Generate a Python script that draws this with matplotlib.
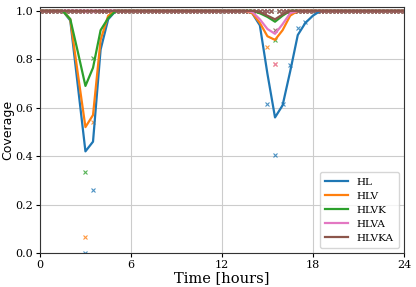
import numpy as np
import matplotlib
matplotlib.use('Agg')
import matplotlib.pyplot as plt

plt.rcParams['font.family'] = 'DejaVu Serif'

series = ['HL', 'HLV', 'HLVK', 'HLVA', 'HLVKA']
colors = ['#1f77b4', '#ff7f0e', '#2ca02c', '#e377c2', '#8c564b']

# smoothed coverage curves (time in hours, value)
hl_t = [0, 1.5, 2.0, 2.5, 3.0, 3.5, 4.0, 4.5, 5.0, 13.5, 14.0, 14.5, 15.0, 15.5, 16.0, 16.5, 17.0, 17.5, 18.0, 18.5, 24]
hl_v = [1.0, 1.0, 0.96, 0.69, 0.42, 0.46, 0.84, 0.965, 1.0, 1.0, 0.99, 0.94, 0.74, 0.56, 0.61, 0.75, 0.90, 0.95, 0.98, 1.0, 1.0]
hlv_t = [0, 1.5, 2.0, 2.5, 3.0, 3.5, 4.0, 4.5, 5.0, 13.5, 14.0, 14.5, 15.0, 15.5, 16.0, 16.5, 17.0, 24]
hlv_v = [1.0, 1.0, 0.965, 0.74, 0.52, 0.57, 0.88, 0.98, 1.0, 1.0, 0.99, 0.95, 0.895, 0.88, 0.92, 0.98, 1.0, 1.0]
hlvk_t = [0, 1.5, 2.0, 2.5, 3.0, 3.5, 4.0, 4.5, 5.0, 14.0, 14.5, 15.0, 15.5, 16.0, 16.5, 24]
hlvk_v = [1.0, 1.0, 0.966, 0.83, 0.69, 0.765, 0.92, 0.97, 1.0, 1.0, 0.99, 0.975, 0.955, 0.98, 1.0, 1.0]
hlva_t = [0, 13.5, 14.0, 14.5, 15.0, 15.5, 16.0, 16.5, 17.0, 24]
hlva_v = [1.0, 1.0, 0.995, 0.965, 0.925, 0.905, 0.945, 0.99, 1.0, 1.0]
hlvka_t = [0, 14.0, 14.5, 15.0, 15.5, 16.0, 16.5, 24]
hlvka_v = [1.0, 1.0, 0.995, 0.98, 0.965, 0.985, 1.0, 1.0]

# raw samples that fall below full coverage (every 15 min, 1.0 otherwise)
hl_raw = {3.0: 0.0, 3.5: 0.26, 15.0: 0.615, 15.5: 0.405, 16.0: 0.615, 16.5: 0.775, 17.0: 0.93, 17.5: 0.955}
hlv_raw = {3.0: 0.065, 3.5: 0.54, 15.0: 0.852, 15.5: 0.78}
hlvk_raw = {3.0: 0.333, 3.5: 0.805, 15.5: 0.88}
hlva_raw = {15.5: 0.78}
hlvka_raw = {15.5: 0.92}

raw_t = np.arange(0, 24.01, 0.25)

lines = [(hl_t, hl_v, hl_raw), (hlv_t, hlv_v, hlv_raw), (hlvk_t, hlvk_v, hlvk_raw),
         (hlva_t, hlva_v, hlva_raw), (hlvka_t, hlvka_v, hlvka_raw)]

fig = plt.figure(figsize=(4.16, 2.87), dpi=100)
ax = fig.add_axes([0.096, 0.118, 0.875, 0.857])

for (t, v, raw), name, c in zip(lines, series, colors):
    ax.plot(t, v, color=c, lw=1.6, label=name, zorder=3)
    rv = [raw.get(float(x), 1.0) for x in raw_t]
    ax.plot(raw_t, rv, 'x', color=c, ms=2.5, mew=0.8, alpha=0.8, zorder=2)

ax.set_xlim(0, 24)
ax.set_ylim(0, 1.015)
ax.set_xticks([0, 6, 12, 18, 24])
ax.set_yticks([0.0, 0.2, 0.4, 0.6, 0.8, 1.0])
ax.grid(True, color='#cccccc', lw=0.8)
ax.set_axisbelow(True)
ax.tick_params(labelsize=8, length=3, pad=2)
for s in ax.spines.values():
    s.set_color('#333333')
    s.set_linewidth(0.8)

ax.set_xlabel('Time [hours]', fontsize=10.5, labelpad=1)
ax.set_ylabel('Coverage', fontsize=9, family='DejaVu Sans', labelpad=1)
ax.legend(loc='lower right', fontsize=7.5, handlelength=2.2, borderpad=0.5, labelspacing=0.45)

fig.savefig('out.png', dpi=100)
